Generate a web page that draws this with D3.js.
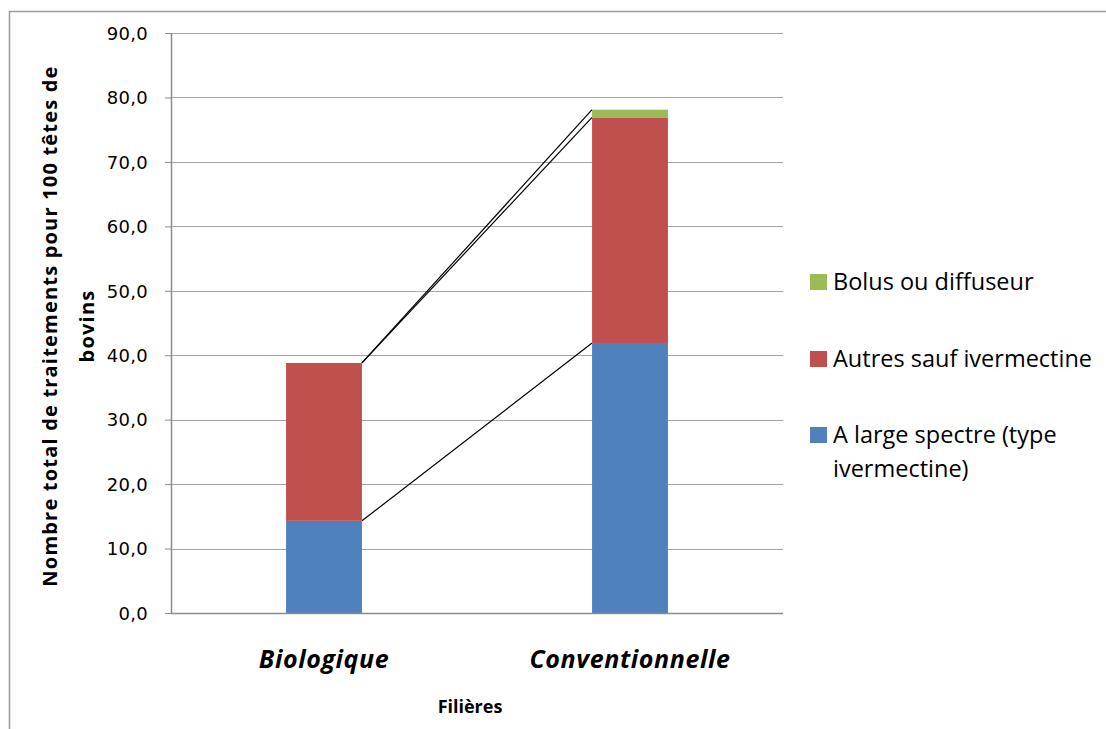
<!DOCTYPE html>
<html>
<head>
<meta charset="utf-8">
<script src="https://cdn.jsdelivr.net/npm/d3@7"></script>
<style>
  body { margin: 0; background: #fff; }
  svg text { font-family: "Open Sans", sans-serif; fill: #000; }
</style>
</head>
<body>
<div class="chart"></div>
<script>
// Data
var categories = ["Biologique", "Conventionnelle"];
var seriesNames = ["A large spectre (type ivermectine)", "Autres sauf ivermectine", "Bolus ou diffuseur"];
var largeSpectre = [14.3, 41.9];
var autres = [24.5, 35.0];
var bolus = [0.0, 1.2];
var yTicks = [0, 10, 20, 30, 40, 50, 60, 70, 80, 90];
var colors = ["#4f81bd", "#c0504d", "#9bbb59"];

var svgWidth = 1106;
var svgHeight = 729;
var margin = {top: 33, right: 323, bottom: 116, left: 171};
var width = svgWidth - margin.left - margin.right;
var height = svgHeight - margin.top - margin.bottom;

var svg = d3.select(".chart")
    .append("svg")
    .attr("width", svgWidth)
    .attr("height", svgHeight);

// outer chart frame (runs off the right and bottom edges)
svg.append("path")
    .attr("d", "M9.5,740 V11.5 H1120")
    .attr("fill", "none")
    .attr("stroke", "#9a9a9a")
    .attr("stroke-width", 1.5);

var chartGroup = svg.append("g")
    .attr("transform", "translate(" + margin.left + "," + margin.top + ")");

// build stacked table
var table = categories.map(function(c, i) {
    return {cat: c, s0: largeSpectre[i], s1: autres[i], s2: bolus[i]};
});
var stacked = d3.stack().keys(["s0", "s1", "s2"])(table);

var xBand = d3.scaleBand()
    .domain(categories)
    .range([0, width])
    .paddingInner(0.752)
    .paddingOuter(0.376);

var yLinearScale = d3.scaleLinear()
    .domain([0, 90])
    .range([height, 0]);

// gridlines
chartGroup.append("g")
    .selectAll("line")
    .data(yTicks.slice(1))
    .enter()
    .append("line")
    .attr("x1", 0)
    .attr("x2", width)
    .attr("y1", d => Math.round(yLinearScale(d)) + 0.5)
    .attr("y2", d => Math.round(yLinearScale(d)) + 0.5)
    .attr("stroke", "#a6a6a6")
    .attr("stroke-width", 1);

// series lines between the stacks
stacked.forEach(function(layer) {
    var a = layer[0], b = layer[1];
    chartGroup.append("line")
        .attr("x1", xBand(categories[0]) + xBand.bandwidth())
        .attr("y1", yLinearScale(a[1]))
        .attr("x2", xBand(categories[1]))
        .attr("y2", yLinearScale(b[1]))
        .attr("stroke", "#000")
        .attr("stroke-width", 1.2);
});

// bars
chartGroup.selectAll(".layer")
    .data(stacked)
    .enter()
    .append("g")
    .attr("fill", (d, i) => colors[i])
    .selectAll("rect")
    .data(d => d)
    .enter()
    .append("rect")
    .attr("x", d => xBand(d.data.cat))
    .attr("y", d => yLinearScale(d[1]))
    .attr("width", xBand.bandwidth())
    .attr("height", d => yLinearScale(d[0]) - yLinearScale(d[1]));

// y axis
var leftAxis = d3.axisLeft(yLinearScale)
    .tickValues(yTicks)
    .tickSize(6)
    .tickFormat(d => d3.format(".1f")(d).replace(".", ","));

var yAxisG = chartGroup.append("g").call(leftAxis);
yAxisG.select(".domain").attr("stroke", "#8c8c8c").attr("stroke-width", 1.5)
    .attr("d", "M0.5," + height + "V0");
yAxisG.selectAll(".tick line").attr("stroke", "#8c8c8c");
yAxisG.selectAll(".tick text")
    .attr("x", -23)
    .attr("dy", "0.35em")
    .style("font-size", "18px")
    .style("letter-spacing", "0.3px")
    .style("font-family", "'DejaVu Sans', sans-serif");

// x axis line
chartGroup.append("line")
    .attr("x1", 0)
    .attr("x2", width)
    .attr("y1", height + 0.5)
    .attr("y2", height + 0.5)
    .attr("stroke", "#8c8c8c")
    .attr("stroke-width", 1.5);

// category labels
chartGroup.selectAll(".cat")
    .data(categories)
    .enter()
    .append("text")
    .attr("x", d => xBand(d) + xBand.bandwidth() / 2)
    .attr("y", 668 - margin.top)
    .attr("text-anchor", "middle")
    .style("font-size", "25px")
    .style("letter-spacing", "0.6px")
    .style("font-weight", "bold")
    .style("font-style", "italic")
    .text(d => d);

// x axis title
chartGroup.append("text")
    .attr("x", 470 - margin.left)
    .attr("y", 713 - margin.top)
    .attr("text-anchor", "middle")
    .style("font-size", "18px")
    .style("font-weight", "bold")
    .text("Filières");

// y axis title
var yTitle = svg.append("text")
    .attr("transform", "translate(0,326) rotate(-90)")
    .attr("text-anchor", "middle")
    .style("font-size", "20px")
    .style("letter-spacing", "1.2px")
    .style("font-weight", "bold");
yTitle.append("tspan").attr("x", 0).attr("y", 57).text("Nombre total de traitements pour 100 têtes de");
yTitle.append("tspan").attr("x", 0).attr("y", 94).text("bovins");

// legend
var legendRows = [
    {color: colors[2], y: 274, lines: [seriesNames[2]]},
    {color: colors[1], y: 351, lines: [seriesNames[1]]},
    {color: colors[0], y: 427, lines: ["A large spectre (type", "ivermectine)"]}
];
var legend = svg.append("g");
legendRows.forEach(function(r) {
    legend.append("rect")
        .attr("x", 810)
        .attr("y", r.y)
        .attr("width", 17)
        .attr("height", 16)
        .attr("fill", r.color);
    var t = legend.append("text")
        .style("font-size", "23.5px");
    r.lines.forEach(function(l, k) {
        t.append("tspan")
            .attr("x", 833)
            .attr("y", r.y + 16 + k * 34)
            .text(l);
    });
});
</script>
</body>
</html>
